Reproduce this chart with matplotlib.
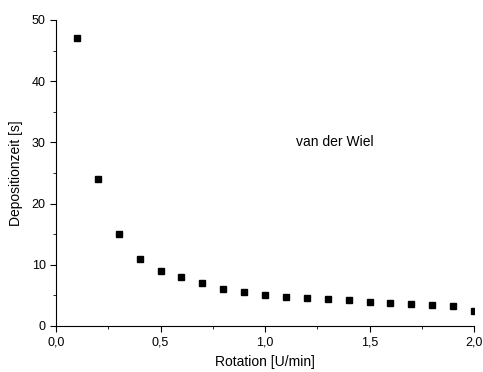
import matplotlib.pyplot as plt
from matplotlib.ticker import MultipleLocator, FuncFormatter

plt.rcParams['font.family'] = ['Liberation Sans', 'DejaVu Sans']

# Rotation [U/min] und Depositionzeit [s]
rotation = [0.1, 0.2, 0.3, 0.4, 0.5, 0.6, 0.7, 0.8, 0.9, 1.0,
            1.1, 1.2, 1.3, 1.4, 1.5, 1.6, 1.7, 1.8, 1.9, 2.0]
zeit = [47, 24, 15, 11, 9, 8, 7, 6, 5.5, 5.0,
        4.8, 4.6, 4.4, 4.2, 4.0, 3.8, 3.6, 3.4, 3.2, 2.5]

fig = plt.figure(figsize=(4.83, 3.72), dpi=100)
ax = fig.add_axes([56 / 483, 1 - 326 / 372, 418 / 483, 306 / 372])

ax.plot(rotation, zeit, 's', color='black', markersize=5)

ax.set_xlim(0, 2.0)
ax.set_ylim(0, 50)
ax.spines['top'].set_visible(False)
ax.spines['right'].set_visible(False)
ax.xaxis.set_major_locator(MultipleLocator(0.5))
ax.xaxis.set_minor_locator(MultipleLocator(0.25))
ax.yaxis.set_major_locator(MultipleLocator(10))
ax.yaxis.set_minor_locator(MultipleLocator(5))
ax.xaxis.set_major_formatter(FuncFormatter(lambda v, p: f'{v:.1f}'.replace('.', ',')))
ax.tick_params(which='major', direction='out', length=4, labelsize=9)
ax.tick_params(which='minor', direction='out', length=2.5)

ax.set_xlabel('Rotation [U/min]', fontsize=10, labelpad=5)
ax.set_ylabel('Depositionzeit [s]', fontsize=10, labelpad=6)
ax.text(1.15, 30, 'van der Wiel', fontsize=10, va='center')

fig.savefig('out.png', dpi=100)
